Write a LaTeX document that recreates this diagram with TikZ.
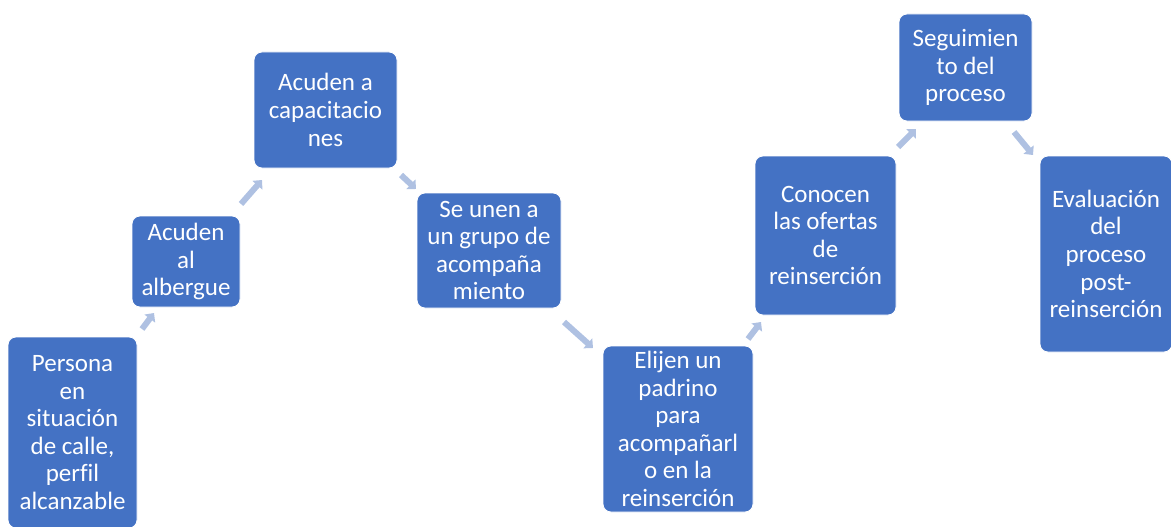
\documentclass[tikz,border=0pt]{standalone}
\usepackage{fontspec}
\setmainfont[Ligatures=NoCommon]{Carlito}
\usetikzlibrary{arrows.meta}
\definecolor{boxblue}{HTML}{4472C4}
\definecolor{arrblue}{HTML}{AFC1E2}
\tikzset{
  stepbox/.style={fill=boxblue, draw=white, line width=0.8pt, rounded corners=8pt,
    text=white, align=center, inner sep=0pt,
    font=\fontsize{25}{27.6}\selectfont},
  conn/.style={draw=arrblue, line width=6pt, -{Triangle[length=7pt,width=13pt]}}
}
\newcommand{\bx}[6]{% name, x1, y1, x2, y2, text
  \node[stepbox, minimum width={(#4-#2)*1pt}, minimum height={(#5-#3)*1pt}] (#1) at ({(#2+#4)/2},{(#3+#5)/2}) {#6};}
\begin{document}
\begin{tikzpicture}[x=1pt,y=-1pt]
\useasboundingbox (0,0) rectangle (1171,527);
\bx{b1}{8}{337}{137}{528}{Persona\\en\\situación\\de calle,\\perfil\\alcanzable}
\bx{b2}{132}{216}{240}{307}{Acuden\\al\\albergue}
\bx{b3}{254}{52}{397}{168}{Acuden a\\capacitacio\\nes}
\bx{b4}{417}{193}{561}{308}{Se unen a\\un grupo de\\acompaña\\miento}
\bx{b5}{603}{346}{753}{512}{Elijen un\\padrino\\para\\acompañarl\\o en la\\reinserción}
\bx{b6}{755}{156}{896}{315}{Conocen\\las ofertas\\de\\reinserción}
\bx{b7}{899}{14}{1032}{121}{Seguimien\\to del\\proceso}
\bx{b8}{1040}{156}{1172}{352}{Evaluación\\del\\proceso\\post-\\reinserción}
% connector end points
\coordinate (a1s) at (142,329); \coordinate (a1e) at (154,313);
\coordinate (a2s) at (241,204); \coordinate (a2e) at (262,180);
\coordinate (a3s) at (401,175); \coordinate (a3e) at (416,189);
\coordinate (a4s) at (564,322); \coordinate (a4e) at (593,348);
\coordinate (a5s) at (748,339); \coordinate (a5e) at (761,322);
\coordinate (a6s) at (898,147); \coordinate (a6e) at (916,129);
\coordinate (a7s) at (1014,132); \coordinate (a7e) at (1033,155);
\draw[conn] (a1s) -- (a1e);
\draw[conn] (a2s) -- (a2e);
\draw[conn] (a3s) -- (a3e);
\draw[conn] (a4s) -- (a4e);
\draw[conn] (a5s) -- (a5e);
\draw[conn] (a6s) -- (a6e);
\draw[conn] (a7s) -- (a7e);
\end{tikzpicture}
\end{document}
